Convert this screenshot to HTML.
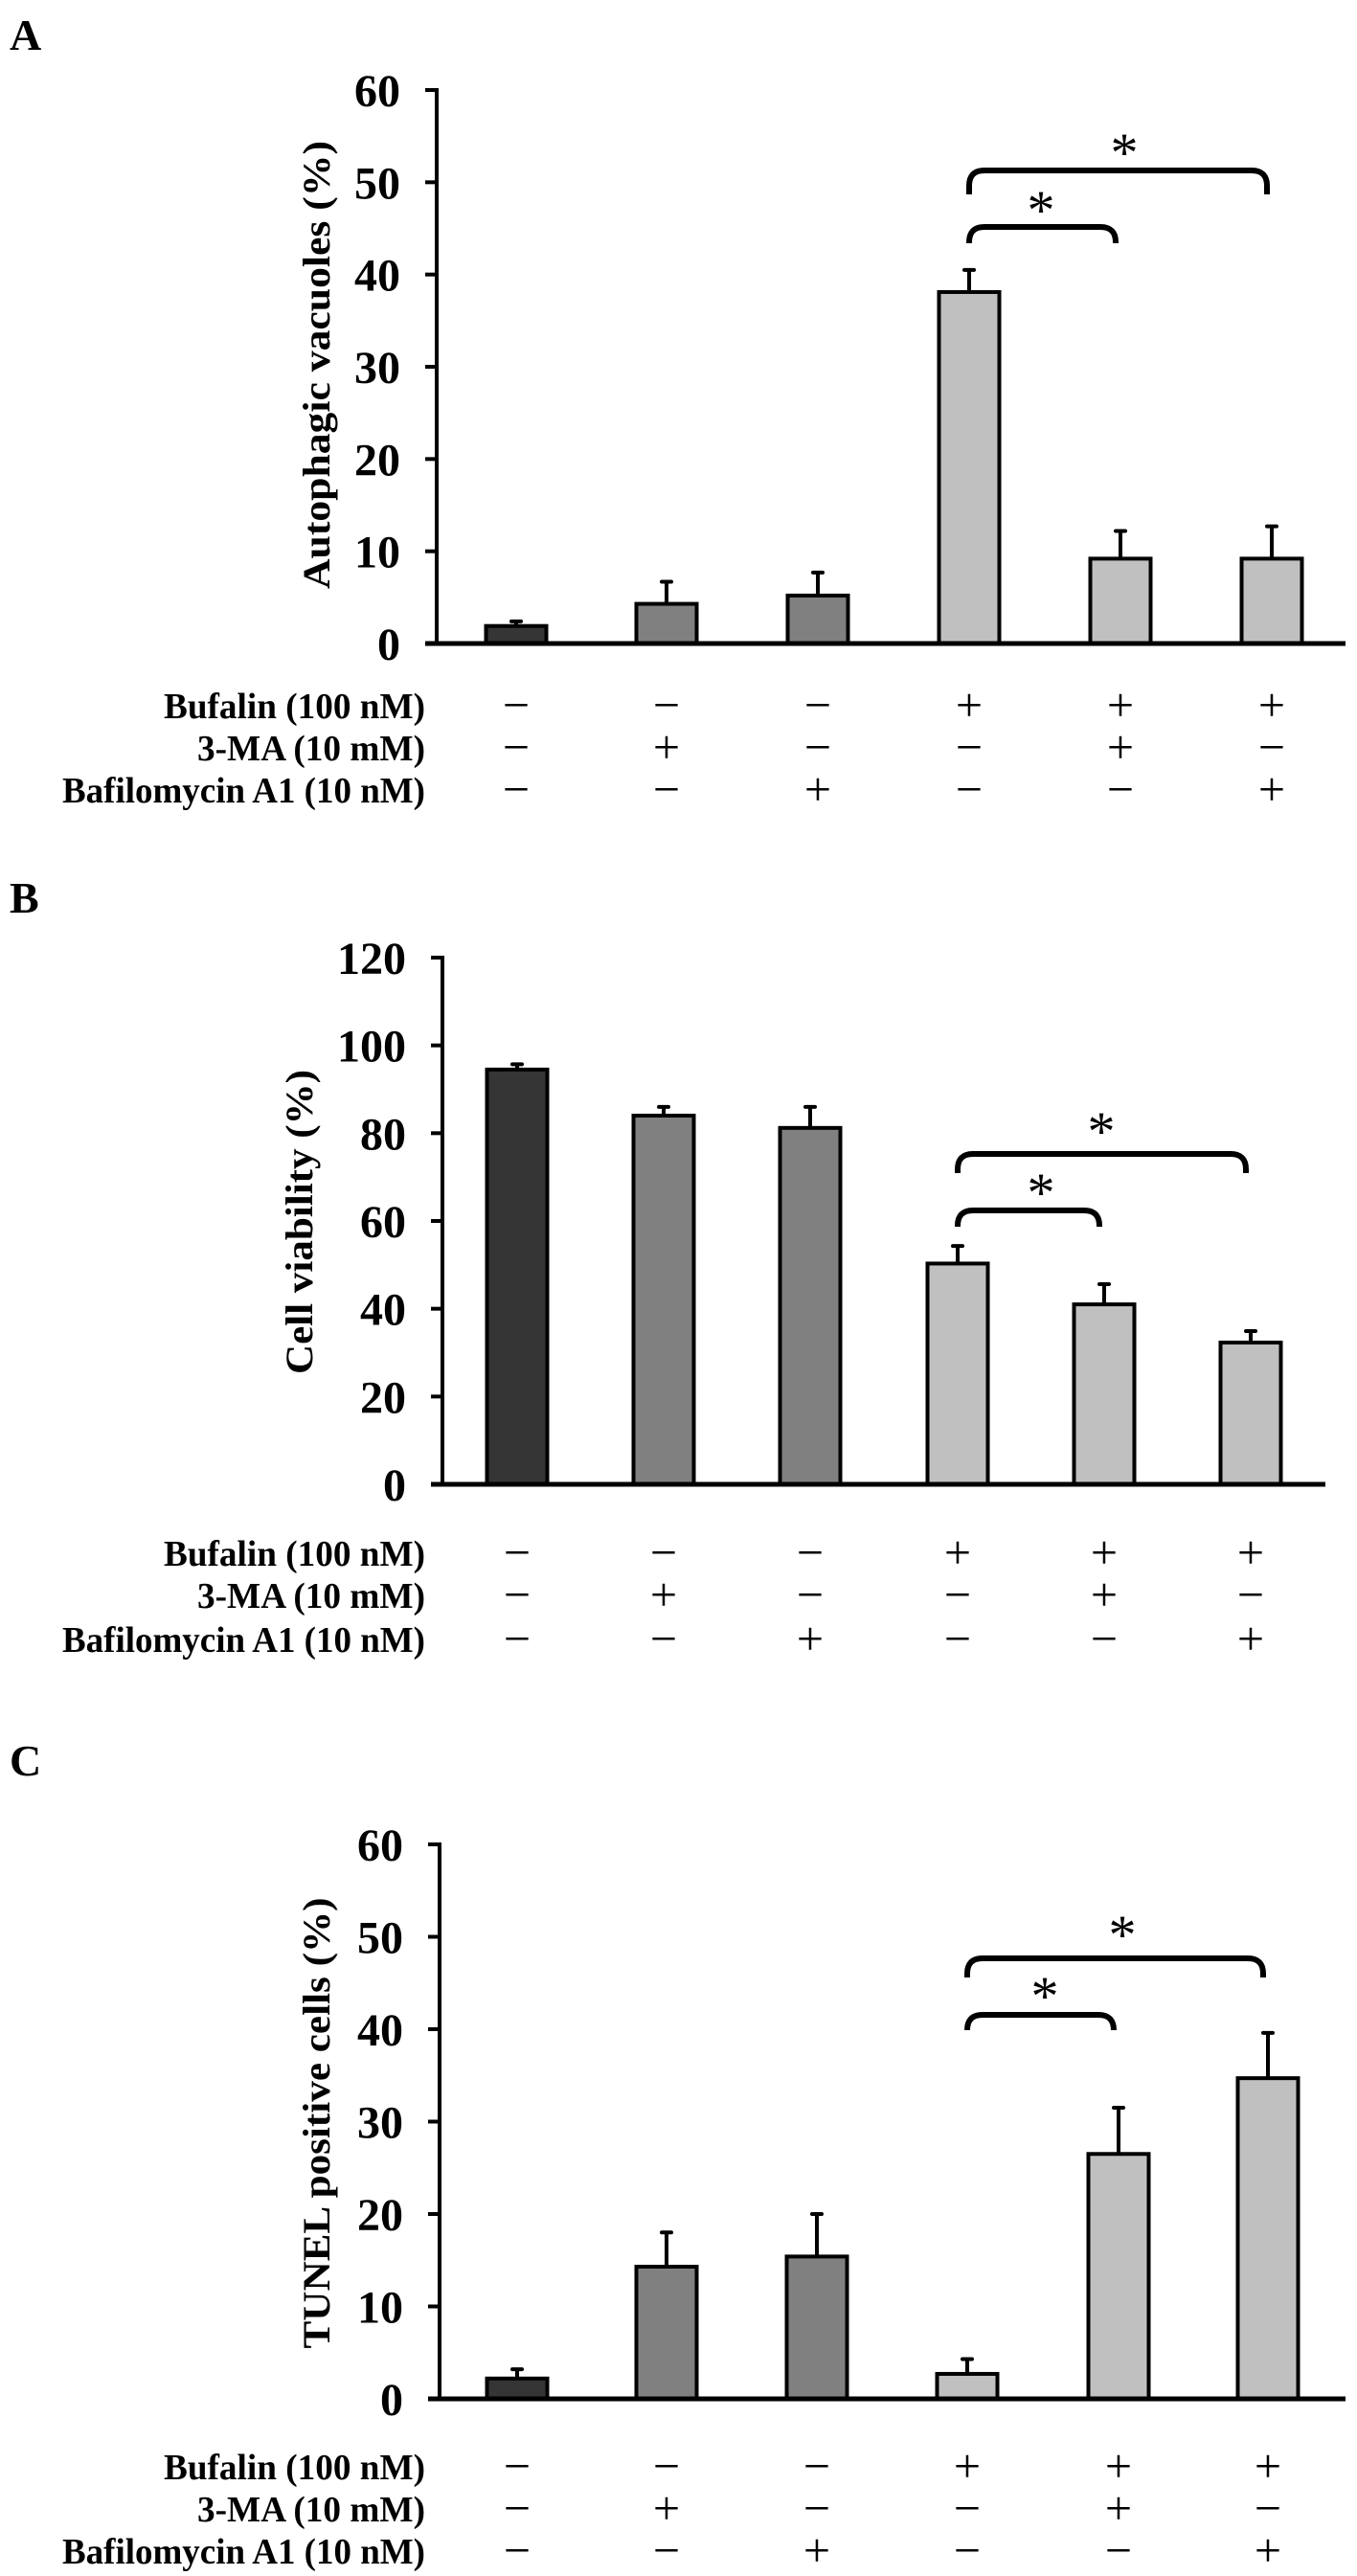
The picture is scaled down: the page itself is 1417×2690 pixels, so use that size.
<!DOCTYPE html>
<html><head><meta charset="utf-8"><style>
html,body{margin:0;padding:0;background:#fff}
svg{display:block}
text{font-family:"Liberation Serif",serif}
</style></head><body>
<svg id="fig" width="1417" height="2690" viewBox="0 0 1417 2690" xmlns="http://www.w3.org/2000/svg"></svg>
<script>
// Panel A data
const aValues = [1.9, 4.3, 5.2, 38.1, 9.2, 9.2];
const aErrors = [0.5, 2.4, 2.5, 2.4, 3.0, 3.5];
const aTicks = [0, 10, 20, 30, 40, 50, 60];
// Panel B data
const bValues = [94.5, 84.0, 81.2, 50.3, 41.0, 32.3];
const bErrors = [1.2, 2.0, 4.8, 4.0, 4.6, 2.6];
const bTicks = [0, 20, 40, 60, 80, 100, 120];
// Panel C data
const cValues = [2.2, 14.3, 15.4, 2.7, 26.5, 34.7];
const cErrors = [1.0, 3.7, 4.6, 1.6, 5.0, 4.9];
const cTicks = [0, 10, 20, 30, 40, 50, 60];
// treatment table
const rowLabels = ["Bufalin (100 nM)", "3-MA (10 mM)", "Bafilomycin A1 (10 nM)"];
const bufalin = ["−","−","−","+","+","+"];
const threeMA = ["−","+","−","−","+","−"];
const bafilo = ["−","−","+","−","−","+"];
const groupColors = ["#353535","#808080","#808080","#c0c0c0","#c0c0c0","#c0c0c0"];

const svg = document.getElementById('fig');
const NS = 'http://www.w3.org/2000/svg';
function mk(tag, attrs, parent){const e=document.createElementNS(NS,tag);for(const k in attrs)e.setAttribute(k,attrs[k]);(parent||svg).appendChild(e);return e;}

const panels = [
 {key:'a', letter:'A', letterY:52, values:aValues, errors:aErrors, ticks:aTicks, max:60, axisX:456, y0:672, yTop:94, xEnd:1405,
  centers:[539,696,854,1012,1170,1328], title:'Autophagic vacuoles (%)', titleX:330, titleLen:468, titleY:381,
  rows:[737,781,825], brackets:[{from:3,to:4,y:237,h:17,sx:1087,sy:215},{from:3,to:5,y:178,h:25,sx:1174,sy:155}]},
 {key:'b', letter:'B', letterY:953, values:bValues, errors:bErrors, ticks:bTicks, max:120, axisX:462, y0:1550, yTop:1000, xEnd:1384,
  centers:[540,693,846,1000,1153,1306], title:'Cell viability (%)', titleX:312, titleLen:318, titleY:1276,
  rows:[1622,1666,1712], brackets:[{from:3,to:4,y:1264,h:17,sx:1087,sy:1241},{from:3,to:5,y:1205,h:20,sx:1150,sy:1177}]},
 {key:'c', letter:'C', letterY:1854, values:cValues, errors:cErrors, ticks:cTicks, max:60, axisX:459, y0:2505, yTop:1926, xEnd:1405,
  centers:[540,696,853,1010,1168,1324], title:'TUNEL positive cells (%)', titleX:330, titleLen:471, titleY:2217,
  rows:[2576,2620,2664], brackets:[{from:3,to:4,y:2104,h:16,sx:1091,sy:2080},{from:3,to:5,y:2045,h:20,sx:1172,sy:2016}]}
];

panels.forEach(p=>{
  const g = mk('g',{});
  
  
  const yS = v => p.y0 - (v/p.max)*(p.y0-p.yTop);
  const L = mk('text',{x:10,y:p.letterY,'font-size':46,'font-weight':'bold'},g);
  L.textContent=p.letter;
  
  
  p.values.forEach((v,i)=>{
    const cx=p.centers[i], w=63;
    const e=p.errors[i];
    const el=mk('line',{x1:cx,x2:cx,y1:yS(v),y2:yS(v+e),stroke:'#000','stroke-width':4},g);
    
    
    const cap=mk('line',{x1:cx-5,x2:cx+5,y1:yS(v+e),y2:yS(v+e),stroke:'#000','stroke-width':4,'stroke-linecap':'round'},g);
    
    
    const r=mk('rect',{x:cx-w/2,y:yS(v),width:w,height:p.y0-yS(v),fill:groupColors[i],stroke:'#000','stroke-width':4},g);
    
    
  });
  const ya=mk('line',{x1:p.axisX,x2:p.axisX,y1:p.yTop-2,y2:p.y0,stroke:'#000','stroke-width':4},g);
  
  
  const xa=mk('line',{x1:p.axisX-12,x2:p.xEnd,y1:p.y0,y2:p.y0,stroke:'#000','stroke-width':5},g);
  
  
  p.ticks.forEach(t=>{
    const tk=mk('line',{x1:p.axisX-12,x2:p.axisX,y1:yS(t),y2:yS(t),stroke:'#000','stroke-width':4},g);
    
    
    const tl=mk('text',{x:p.axisX-38,y:yS(t)+17,'font-size':48,'font-weight':'bold','text-anchor':'end'},g);
    tl.textContent=t;
    
    
  });
  const tt=mk('text',{x:0,y:0,'font-size':40,'font-weight':'bold','text-anchor':'middle',textLength:p.titleLen,lengthAdjust:'spacingAndGlyphs',transform:`translate(${p.titleX+14},${p.titleY}) rotate(-90)`},g);
  tt.textContent=p.title;
  
  
  p.brackets.forEach((b,k)=>{
    const x1=p.centers[b.from], x2=p.centers[b.to]-5, r=16;
    const d=`M${x1} ${b.y+b.h} L${x1} ${b.y+r} Q${x1} ${b.y} ${x1+r} ${b.y} L${x2-r} ${b.y} Q${x2} ${b.y} ${x2} ${b.y+r} L${x2} ${b.y+b.h}`;
    const br=mk('path',{d:d,fill:'none',stroke:'#000','stroke-width':6},g);
    
    
    const s=mk('text',{x:b.sx,y:b.sy+24,'font-size':58,'text-anchor':'middle','font-family':'"Liberation Sans",sans-serif'},g);
    s.textContent='*';
    
    
  });
  const rowsData=[bufalin,threeMA,bafilo];
  const lens=[273,238,379];
  rowLabels.forEach((lab,ri)=>{
    const ry=p.rows[ri];
    const t=mk('text',{x:444,y:ry+13,'font-size':38,'font-weight':'bold','text-anchor':'end',textLength:lens[ri],lengthAdjust:'spacingAndGlyphs'},g);
    t.textContent=lab;
    
    
    rowsData[ri].forEach((sym,i)=>{
      const s=mk('text',{x:p.centers[i],y:ry+16,'font-size':50,'text-anchor':'middle'},g);
      s.textContent=sym;
      
      
    });
  });
});
</script>
</body></html>
